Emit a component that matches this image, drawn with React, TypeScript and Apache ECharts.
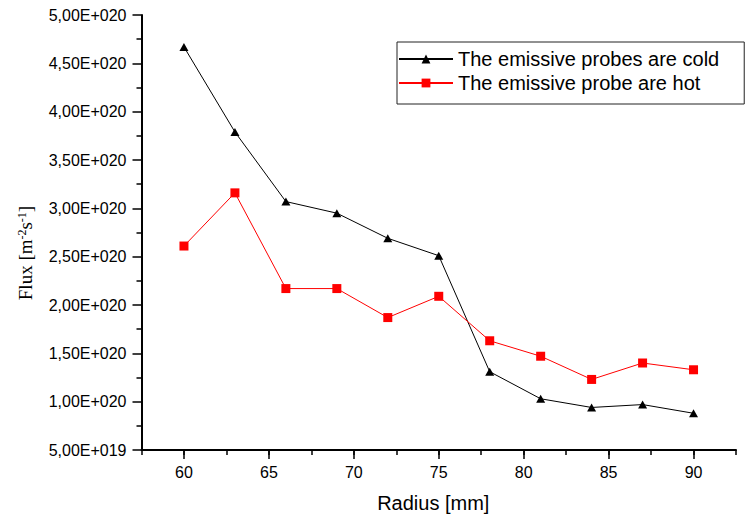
import React, { useEffect, useRef } from "react";
import * as echarts from "echarts";

const radius = [60, 63, 66, 69, 72, 75, 78, 81, 84, 87, 90];
const coldFlux = [4.67e20, 3.79e20, 3.07e20, 2.95e20, 2.69e20, 2.51e20, 1.31e20, 1.03e20, 0.94e20, 0.97e20, 0.88e20];
const hotFlux = [2.61e20, 3.16e20, 2.17e20, 2.17e20, 1.87e20, 2.09e20, 1.63e20, 1.47e20, 1.23e20, 1.40e20, 1.33e20];
const seriesNames = ["The emissive probes are cold", "The emissive probe are hot"];
const xMajorTicks = [60, 65, 70, 75, 80, 85, 90];

function fmtSci(v: number): string {
  const s = v.toExponential(2);
  const [m, e] = s.split("e");
  const sign = e[0] === "-" ? "-" : "+";
  const digits = e.replace(/[+-]/, "").padStart(3, "0");
  return m.replace(".", ",") + "E" + sign + digits;
}

export default function App() {
  const ref = useRef<HTMLDivElement>(null);
  useEffect(() => {
    if (!ref.current) return;
    const chart = echarts.init(ref.current, null, { renderer: "svg" });
    const sans = "Liberation Sans";
    chart.setOption({
      animation: false,
      backgroundColor: "#ffffff",
      grid: { left: 141.5, right: 10, top: 15, bottom: 68, containLabel: false },
      legend: {
        orient: "vertical",
        left: 397,
        top: 42,
        padding: [5, 25, 9, 1],
        borderColor: "#222",
        borderWidth: 1,
        itemWidth: 54,
        itemHeight: 11,
        itemGap: 0,
        textStyle: { fontFamily: sans, fontSize: 20, color: "#000", lineHeight: 24 },
        data: seriesNames,
      },
      xAxis: [
        {
          type: "value",
          min: 57.5,
          max: 92.5,
          interval: 2.5,
          name: "Radius [mm]",
          nameLocation: "middle",
          nameGap: 43,
          nameTextStyle: { fontFamily: sans, fontSize: 20, color: "#000", padding: [0, 11, 0, 0] },
          axisLine: { lineStyle: { color: "#000", width: 2 } },
          axisTick: { show: true, length: 9, customValues: xMajorTicks, lineStyle: { color: "#000", width: 1.5 } },
          axisLabel: {
            fontFamily: sans,
            fontSize: 16,
            color: "#000",
            margin: 14,
            customValues: xMajorTicks,
            formatter: (v: number) => String(v),
          },
          splitLine: { show: false },
        },
        {
          type: "value",
          min: 57.5,
          max: 92.5,
          interval: 2.5,
          position: "bottom",
          axisLine: { show: false },
          axisTick: { show: true, length: 5, lineStyle: { color: "#000", width: 1.5 } },
          axisLabel: { show: false },
          splitLine: { show: false },
        },
      ],
      yAxis: {
        type: "value",
        min: 0.5e20,
        max: 5e20,
        interval: 0.5e20,
        axisLine: { show: true, lineStyle: { color: "#000", width: 2 } },
        axisTick: { show: true, length: 9, lineStyle: { color: "#000", width: 1.5 } },
        minorTick: { show: true, splitNumber: 2, length: 5, lineStyle: { color: "#000", width: 1.5 } },
        axisLabel: { fontFamily: sans, fontSize: 16, color: "#000", margin: 15, formatter: fmtSci },
        splitLine: { show: false },
      },
      graphic: [
        {
          type: "text",
          x: 25,
          y: 253,
          rotation: Math.PI / 2,
          style: {
            text: "Flux [m{sup|-2}s{sup|-1}]",
            fontFamily: "Liberation Serif",
            fontSize: 19,
            fill: "#000",
            align: "center",
            verticalAlign: "middle",
            rich: {
              sup: { fontFamily: "Liberation Serif", fontSize: 12, verticalAlign: "top", lineHeight: 19, fill: "#000" },
            },
          },
        },
      ],
      series: [
        {
          name: seriesNames[0],
          type: "line",
          xAxisIndex: 0,
          data: radius.map((r, i) => [r, coldFlux[i]]),
          symbol: "triangle",
          symbolSize: [9, 8],
          lineStyle: { color: "#000", width: 1 },
          itemStyle: { color: "#000" },
        },
        {
          name: seriesNames[1],
          type: "line",
          xAxisIndex: 0,
          data: radius.map((r, i) => [r, hotFlux[i]]),
          symbol: "rect",
          symbolSize: 9,
          lineStyle: { color: "#ff0000", width: 1 },
          itemStyle: { color: "#ff0000" },
        },
      ],
    });
    return () => chart.dispose();
  }, []);
  return <div ref={ref} style={{ position: "fixed", left: 0, top: 0, width: 746, height: 518 }} />;
}
